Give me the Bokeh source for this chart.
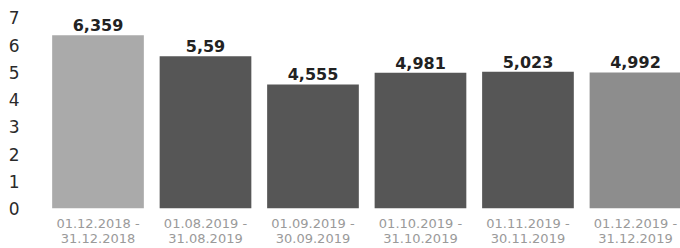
from bokeh.plotting import figure
from bokeh.models import Range1d, FixedTicker, ColumnDataSource
from bokeh.core.properties import value
from bokeh.embed import file_html
from bokeh.resources import INLINE

# data
periods = ["01.12.2018 -\n31.12.2018", "01.08.2019 -\n31.08.2019", "01.09.2019 -\n30.09.2019",
           "01.10.2019 -\n31.10.2019", "01.11.2019 -\n30.11.2019", "01.12.2019 -\n31.12.2019"]
values = [6.359, 5.59, 4.555, 4.981, 5.023, 4.992]
value_labels = ["6,359", "5,59", "4,555", "4,981", "5,023", "4,992"]
y_ticks = [0, 1, 2, 3, 4, 5, 6, 7]

# styles
bar_colors = ["#aaaaaa", "#565656", "#565656", "#565656", "#565656", "#8d8d8d"]

idx = list(range(len(values)))
src = ColumnDataSource(dict(x=idx, top=values, lab=value_labels, color=bar_colors))

p = figure(frame_width=650, frame_height=200, output_backend="svg", toolbar_location=None,
           x_range=Range1d(-0.628, 5.419), y_range=Range1d(0, 7.34),
           min_border_left=30, min_border_right=0, min_border_top=8, min_border_bottom=0)
p.outline_line_color = None
p.background_fill_color = "white"
p.border_fill_color = "white"
p.grid.visible = False

p.vbar(x="x", top="top", bottom=0, width=0.853, color="color", line_color=None, source=src)
p.text(x="x", y="top", text="lab", source=src, text_align="center", text_baseline="bottom",
       y_offset=-4, text_font=value("DejaVu Sans"), text_font_style="bold",
       text_font_size="16px", text_color="#222222")

xa = p.xaxis[0]
xa.ticker = FixedTicker(ticks=idx)
xa.major_label_overrides = {i: periods[i] for i in idx}
xa.axis_line_color = None
xa.major_tick_line_color = None
xa.minor_tick_line_color = None
xa.major_tick_out = 0
xa.major_tick_in = 0
xa.major_label_standoff = 7
xa.major_label_text_font = "DejaVu Sans"
xa.major_label_text_font_size = "13px"
xa.major_label_text_line_height = 1.05
xa.major_label_text_color = "#9a9a9a"

ya = p.yaxis[0]
ya.ticker = FixedTicker(ticks=y_ticks)
ya.axis_line_color = None
ya.major_tick_line_color = None
ya.minor_tick_line_color = None
ya.major_tick_out = 0
ya.major_tick_in = 0
ya.major_label_standoff = 11
ya.major_label_text_font = "DejaVu Sans"
ya.major_label_text_font_size = "17px"
ya.major_label_text_color = "#2a2a2a"

open("out.html", "w").write(file_html(p, INLINE))
